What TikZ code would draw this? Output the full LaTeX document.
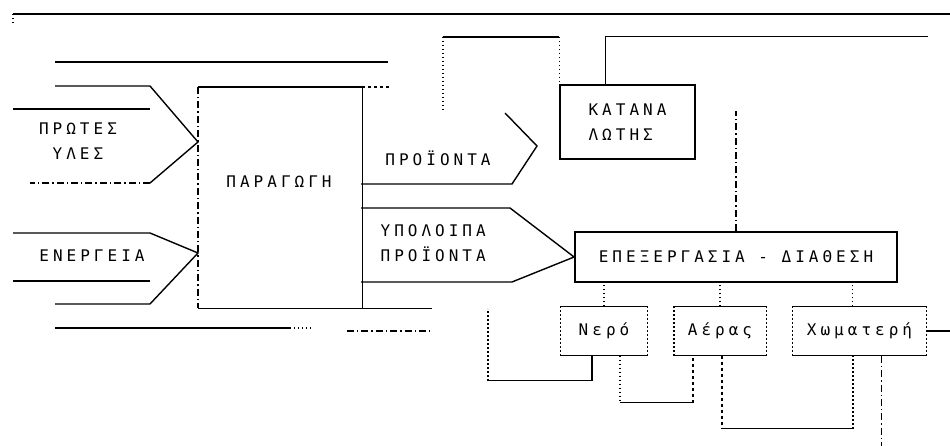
\documentclass[tikz,border=0pt]{standalone}
\usepackage{fontspec}
\newfontfamily\grfont[LetterSpace=25]{DejaVu Sans Mono}
\usepackage{tikz}

\tikzset{
  lbl/.style={inner sep=0pt, align=center},
  bin/.style={inner sep=0pt, minimum height=48},
  dots/.style={dash pattern=on 1.4pt off 2.6pt},
  brk/.style={dash pattern=on 7pt off 3pt on 1.4pt off 3pt},
}

\begin{document}
\begin{tikzpicture}[x=1pt, y=-1pt, line width=1.4pt, font=\grfont\fontsize{16}{25}\selectfont]
\useasboundingbox (0,0) rectangle (950,446);

\draw (13,14) -- (950,14);
\draw[dots] (13,14) -- (13,25);

\draw (55,62) -- (388,62);
\draw (55,86) -- (150,86) -- (198,142) -- (150,183);
\draw[brk] (150,183) -- (30,183);
\draw (13,109) -- (150,109);
\node[lbl] (hyles) at (78,141) {ΠΡΩΤΕΣ\\ΥΛΕΣ};

\draw (13,233) -- (150,233) -- (198,253) -- (150,304) -- (55,304);
\draw (13,281) -- (150,281);
\draw (55,328) -- (290,328);
\draw[dots] (290,328) -- (312,328);
\draw[brk] (347,331) -- (430,331);
\node[lbl] (energeia) at (92,256) {ΕΝΕΡΓΕΙΑ};

\node[inner sep=0pt, anchor=north west, minimum width=163, minimum height=220] (paragogi) at (198,87) {};
\node[lbl] (paragogiTxt) at (279,182) {ΠΑΡΑΓΩΓΗ};
\draw (paragogi.north west) -- (paragogi.north east) -- (paragogi.south east);
\draw[dashed] (paragogi.north east) -- ++(27,0);
\draw (paragogi.south west) -- ++(234,0);
\draw[brk] (paragogi.north west) -- (paragogi.south west);

\node[draw, inner sep=0pt, minimum width=135, minimum height=74, align=left] (katanal) at (627.5,122) {ΚΑΤΑΝΑ\\ΛΩΤΗΣ};
\node[draw, line width=1.8pt, inner sep=0pt, minimum width=322, minimum height=50] (epex) at (736,257) {ΕΠΕΞΕΡΓΑΣΙΑ - ΔΙΑΘΕΣΗ};

\draw (361,184) -- (512,184) -- (537,146) -- (505,113);
\node[lbl] (proionta) at (438,158) {ΠΡΟΪΟΝΤΑ};

\coordinate (fb) at (443,110);
\draw[dots] (fb) -- ++(0,-73) coordinate (fb2);
\draw (fb2) -- (fb2 -| katanal.west);
\draw[dots] (fb2 -| katanal.west) -- (katanal.north west);
\draw ([xshift=-22]katanal.north) -- ++(0,-48) -- ++(322,0);
\draw[brk] (epex.north) -- ++(0,-120);

\draw (361,208) -- (510,208) -- (epex.west) -- (512,282) -- (361,282);
\node[lbl, align=left, anchor=west] (ypoloipa) at (380,243) {ΥΠΟΛΟΙΠΑ\\ΠΡΟΪΟΝΤΑ};

\node[bin, minimum width=86] (nero) at (604,331) {Νερό};
\node[bin, minimum width=91] (aeras) at (720,331) {Αέρας};
\node[bin, minimum width=133] (xomat) at (859.5,331) {Χωματερή};
\foreach \n in {nero,aeras,xomat} {
  \draw (\n.north west) -- (\n.north east) (\n.south west) -- (\n.south east);
  \draw[dots] (\n.north west) -- (\n.south west) (\n.north east) -- (\n.south east);
}
\draw[dots] (nero.north) -- (nero.north |- epex.south);
\draw[dots] (aeras.north) -- (aeras.north |- epex.south);
\draw[dots] ([xshift=-7]xomat.north) -- ++(0,-25);
\draw (xomat.east) -- ++(24,0);

\draw ([xshift=-12]nero.south) -- ++(0,25) -- ++(-104,0) coordinate (c0);
\draw[dots] (c0) -- ++(0,-72);
\draw[dots] ([xshift=16]nero.south) -- ++(0,47) coordinate (c2);
\draw (c2) -- ++(73,0) coordinate (c3);
\draw[dashed] (c3) -- (c3 |- aeras.south);
\draw[dashed] ([xshift=2]aeras.south) -- ++(0,73) coordinate (c4);
\draw (c4) -- ++(131,0) coordinate (c5);
\draw[dots] (c5) -- (c5 |- xomat.south);
\draw[brk] ([xshift=22]xomat.south) -- ++(0,91);

\end{tikzpicture}
\end{document}
